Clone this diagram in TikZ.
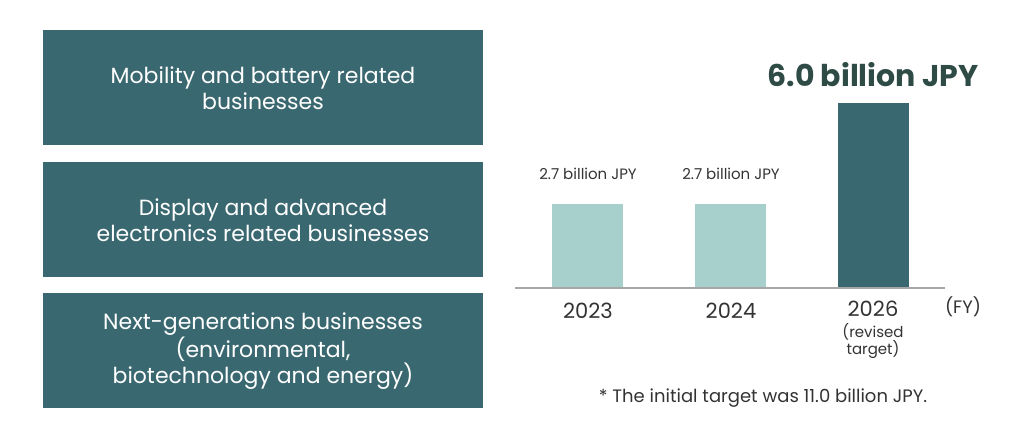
\documentclass[tikz,border=0pt]{standalone}
\usepackage{fontspec}
\setmainfont{Poppins}
\definecolor{teal1}{HTML}{3A6870}
\definecolor{light1}{HTML}{A7CFCC}
\definecolor{dk}{HTML}{2E4B45}
\definecolor{tx}{HTML}{333333}
\begin{document}
\begin{tikzpicture}[x=1pt,y=-1pt,
  box/.style={fill=teal1,draw=none,text=white,align=center,font=\fontsize{22}{26}\selectfont},
  bar/.style={draw=none},
  lab/.style={text=tx,font=\fontsize{15}{18}\selectfont},
  yr/.style={text=tx,font=\fontsize{21}{24}\selectfont}]
\useasboundingbox (0,0) rectangle (1020,440);
\fill[teal1] (43,30) rectangle (483,145);
\node[box] (b1) at (263,88) {Mobility and battery related\\businesses};
\fill[teal1] (43,162) rectangle (483,277);
\node[box] (b2) at (263,220) {Display and advanced\\electronics related businesses};
\fill[teal1] (43,293) rectangle (483,408);
\node[box] (b3) at (263,351) {Next-generations businesses\\(environmental,\\biotechnology and energy)};
\fill[light1] (552,204) rectangle (623,288);
\fill[light1] (695,204) rectangle (766,288);
\fill[teal1] (838,103) rectangle (909,288);
\coordinate (a1) at (515,288); \coordinate (a2) at (945,288);
\draw[gray!70,line width=1.2pt] (a1) -- (a2);
\node[lab] (l1) at (588,174) {2.7 billion JPY};
\node[lab] (l2) at (731,174) {2.7 billion JPY};
\node[text=dk,font=\bfseries\fontsize{30}{34}\selectfont] (l3) at (873,75) {6.0 billion JPY};
\node[yr] (y1) at (588,311) {2023};
\node[yr] (y2) at (731,311) {2024};
\node[yr] (y3) at (873,309) {2026};
\node[lab,align=center,font=\fontsize{15}{15}\selectfont] (rt) at (873,341) {(revised\\target)};
\node[lab,font=\fontsize{18}{20}\selectfont] (fy) at (963,307) {(FY)};
\node[lab,font=\fontsize{18}{20}\selectfont] (fn) at (763,398) {* The initial target was 11.0 billion JPY.};
\end{tikzpicture}
\end{document}
